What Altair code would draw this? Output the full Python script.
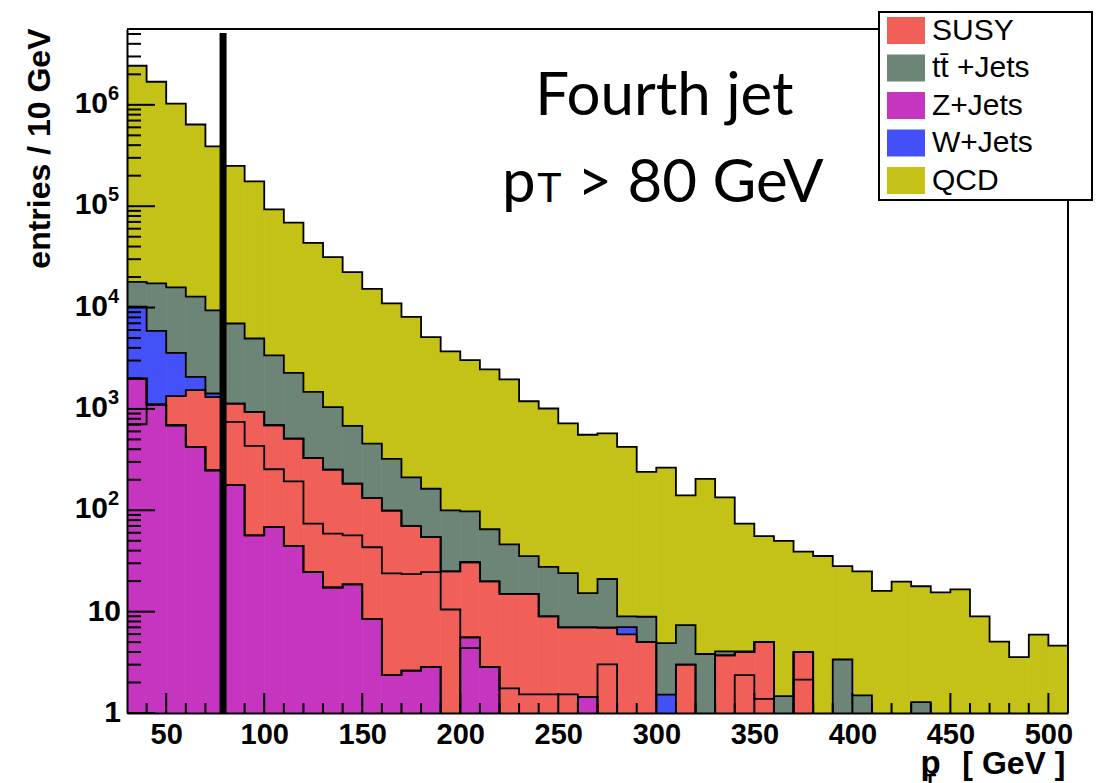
import altair as alt
import pandas as pd

# ---------------- data ----------------
bin_low = list(range(30, 510, 10))          # 48 bins of 10 GeV, 30..510
N = None                                      # no contribution in this bin

# cumulative stack levels (bottom -> top). None = same as the level below
zjets_a = [706, 1100, 690, 422, 248, 177, 56.6, 68.4, 44.5, 24.6,
           17.3, 18.6, 8.5, 2.36, 2.62, 2.85, 0, 4.37, 2.85, 0,
           0, 0, 0, 1.44, 0, 0, 0, 0, 0, 0,
           0, 0, 0, 0, 0, 0, 0, 0, 0, 0,
           0, 0, 0, 0, 0, 0, 0, 0]
zjets_b = [1990, N, N, N, N, N, N, N, N, N,
           N, N, N, N, N, N, N, 5.57, N, N,
           N, N, N, N, N, N, N, N, N, N,
           N, N, N, N, N, N, N, N, N, N,
           N, N, N, N, N, N, N, N]
susy_a = [N, N, N, N, N, 745, 431, 254, 193, 74,
          58.9, 56.6, 43.2, 23.8, 23.5, 24.5, 10.5, N, N, 1.75,
          1.53, 1.53, 1.53, N, 3.02, N, N, N, N, N,
          N, 2.36, 1.38, N, 2.13, N, N, N, N, N,
          N, N, N, N, N, N, N, N]
susy_b = [N, N, 1340, 1530, 1310, 1130, 934, 690, 510, 328,
          252, 183, 132, 99.3, 69.7, 54.3, 25.0, 30.7, 19.9, 15.0,
          15.0, 9.0, 7.0, 7.0, 6.95, 5.97, 5.01, N, 3.0, N,
          3.7, 4.0, 5.01, N, 3.99, N, N, N, N, N,
          N, N, N, N, N, N, N, N]
wjets = [1.02e4, 5.9e3, 3.57e3, 2.07e3, 1.42e3, N, N, N, N, N,
         N, N, N, N, N, N, N, N, N, N,
         N, N, N, N, N, 7.05, N, 1.52, N, N,
         N, N, N, N, N, N, N, N, N, N,
         N, N, N, N, N, N, N, N]
ttbar = [1.79e4, 1.73e4, 1.58e4, 1.28e4, 9.4e3, 6.96e3, 4.95e3, 3.38e3, 2.27e3, 1.47e3,
         1.04e3, 679, 455, 321, 211, 163, 100, 97.7, 65, 46,
         35.3, 27.7, 24, 15.2, 21.0, 9.0, 8.9, 4.9, 7.35, 3.82,
         4.06, 4.06, N, 1.47, N, N, 3.37, 1.49, N, N,
         1.28, N, N, N, N, N, N, N]
qcd = [2.43e6, 1.69e6, 1.03e6, 6.4e5, 3.9e5, 2.5e5, 1.76e5, 9.3e4, 6.9e4, 4.35e4,
       3.15e4, 2.24e4, 1.53e4, 1.1e4, 8.1e3, 5.1e3, 3.7e3, 3.03e3, 2.45e3, 1.96e3,
       1.19e3, 1.01e3, 721, 556, 575, 422, 239, 264, 140, 204,
       134, 74, 55.7, 49.8, 39.1, 35.4, 28.1, 25.0, 16.0, 19.8,
       17.8, 15.5, 16.6, 9.0, 5.06, 3.56, 5.93, 4.62]

processes = ["SUSY", "tt\u0304 +Jets", "Z+Jets", "W+Jets", "QCD"]
colors = ["#F06058", "#6D8576", "#C535C0", "#4450F8", "#C4C117"]

layers = [("Z+Jets", zjets_a), ("Z+Jets", zjets_b), ("SUSY", susy_a), ("SUSY", susy_b),
          ("W+Jets", wjets), ("tt\u0304 +Jets", ttbar), ("QCD", qcd)]

y_plain_ticks = [1, 10]
y_plain_text = ["1", "10"]
y_pow_ticks = [100, 1000, 10000, 100000, 1000000]
y_pow_exp = ["2", "3", "4", "5", "6"]
x_ticks = [50, 100, 150, 200, 250, 300, 350, 400, 450, 500]
x_cut = 79
y_max = 5.6e6

# ---------------- build tables ----------------
band_rows, line_rows = [], []
prev = [0.0] * len(bin_low)
for k, (name, arr) in enumerate(layers):
    lvl = [prev[i] if arr[i] is None else arr[i] for i in range(len(bin_low))]
    for i, lo in enumerate(bin_low):
        if lvl[i] > prev[i] and lvl[i] >= 1:
            band_rows.append(dict(process=name, x=lo, x2=lo + 10, top=lvl[i],
                                  bottom=prev[i] if prev[i] >= 1 else 1))
        line_rows.append(dict(level=k, x=lo, y=lvl[i] if lvl[i] > 0 else 0.3))
    line_rows.append(dict(level=k, x=510, y=lvl[-1] if lvl[-1] > 0 else 0.3))
    prev = lvl
bands = pd.DataFrame(band_rows)
lines = pd.DataFrame(line_rows)

y_major = y_plain_ticks + y_pow_ticks
minor_y = [m * 10 ** e for e in range(0, 7) for m in range(2, 10) if m * 10 ** e < y_max]
minor_x = [v for v in range(40, 510, 10) if v % 50 != 0]

W, H = 941, 684
FONT = "Liberation Sans"
xscale = alt.Scale(domain=[30, 510], nice=False, zero=False)
yscale = alt.Scale(type="log", domain=[1, y_max], nice=False)
xaxis = alt.Axis(values=x_ticks, title=None, grid=False, ticks=False, domainColor="black",
                 domainWidth=2, labelFont=FONT, labelFontWeight="bold", labelFontSize=29,
                 labelColor="black", labelPadding=7, zindex=1, labelFlush=False)
yaxis = alt.Axis(values=y_major, title="entries / 10 GeV", grid=False, ticks=False,
                 labels=False, domainColor="black", domainWidth=2, zindex=1,
                 titleFont=FONT, titleFontWeight="bold", titleFontSize=32, titleColor="black",
                 titleX=-71, titleY=-1, titleAlign="right", titleBaseline="bottom")


def X(f):
    return alt.X(f, type="quantitative", scale=xscale, axis=xaxis, title=None)


def Y(f):
    return alt.Y(f, type="quantitative", scale=yscale, axis=yaxis)


cscale = alt.Scale(domain=processes, range=colors)
legend = alt.Legend(orient="none", legendX=760, legendY=-17.5, title=None,
                    symbolType="M-1,-0.71L1,-0.71L1,0.71L-1,0.71Z", symbolSize=1444,
                    symbolStrokeWidth=0, labelFont=FONT, labelFontSize=30, labelColor="black",
                    labelOffset=7, rowPadding=3.5, padding=0, symbolOpacity=1)

band_chart = alt.Chart(bands).mark_rect(clip=True, strokeWidth=0.7, opacity=1).encode(
    x=X("x"), x2="x2", y=Y("top"), y2="bottom",
    color=alt.Color("process:N", scale=cscale, legend=legend),
    stroke=alt.Stroke("process:N", scale=cscale, legend=None),
)

outline = alt.Chart(lines).mark_line(interpolate="step-after", color="black",
                                     strokeWidth=1.8, clip=True).encode(
    x=X("x"), y=Y("y"), detail="level:N")

cut = alt.Chart(pd.DataFrame({"x": [x_cut], "y1": [1], "y2": [5.1e6]})).mark_rule(
    color="black", strokeWidth=7).encode(x=X("x"), y=Y("y1"), y2="y2")

ytick_major = alt.Chart(pd.DataFrame({"v": y_major})).mark_rule(color="black", strokeWidth=2).encode(
    y=Y("v"), x=alt.value(0), x2=alt.value(28))
ytick_minor = alt.Chart(pd.DataFrame({"v": minor_y})).mark_rule(color="black", strokeWidth=2).encode(
    y=Y("v"), x=alt.value(0), x2=alt.value(14))
xtick_major = alt.Chart(pd.DataFrame({"v": x_ticks})).mark_rule(color="black", strokeWidth=2).encode(
    x=X("v"), y=alt.value(H), y2=alt.value(H - 20))
xtick_minor = alt.Chart(pd.DataFrame({"v": minor_x})).mark_rule(color="black", strokeWidth=2).encode(
    x=X("v"), y=alt.value(H), y2=alt.value(H - 10))

# y tick labels: "1", "10" and 10^n with a raised exponent
ylab_plain = alt.Chart(pd.DataFrame({"v": y_plain_ticks, "t": y_plain_text})).mark_text(
    font=FONT, fontWeight="bold", fontSize=30, align="right", baseline="middle",
    color="black").encode(y=Y("v"), x=alt.value(-6), text="t:N")
ylab_base = alt.Chart(pd.DataFrame({"v": y_pow_ticks, "t": ["10"] * len(y_pow_ticks)})).mark_text(
    font=FONT, fontWeight="bold", fontSize=30, align="right", baseline="middle", dy=-1,
    color="black").encode(y=Y("v"), x=alt.value(-19), text="t:N")
ylab_exp = alt.Chart(pd.DataFrame({"v": y_pow_ticks, "t": y_pow_exp})).mark_text(
    font=FONT, fontWeight="bold", fontSize=20, align="left", baseline="middle", dy=-11,
    color="black").encode(y=Y("v"), x=alt.value(-19), text="t:N")

one = pd.DataFrame({"a": [0]})
frame_top = alt.Chart(one).mark_rule(color="black", strokeWidth=2).encode(
    x=alt.value(0), x2=alt.value(W), y=alt.value(0))
frame_right = alt.Chart(one).mark_rule(color="black", strokeWidth=2).encode(
    x=alt.value(W), y=alt.value(0), y2=alt.value(H))
legend_box = alt.Chart(one).mark_rect(fill="white", stroke="black", strokeWidth=2).encode(
    x=alt.value(752), x2=alt.value(965), y=alt.value(-17), y2=alt.value(171))


def label(text, x, y, size, font="Lato", weight="normal", align="left"):
    return alt.Chart(pd.DataFrame({"x": [x], "y": [y], "t": [text]})).mark_text(
        font=font, fontSize=size, fontWeight=weight, align=align, baseline="alphabetic",
        color="black").encode(x=X("x"), y=Y("y"), text="t:N")


texts = [
    label("Fourth jet", 304.1, 7.93e5, 60, align="center"),
    label("p", 221.3, 1.105e5, 60),
    label("T", 239.3, 1.105e5, 41),
    label("> 80 GeV", 259.7, 1.105e5, 60),
    label("p", 434.7, 0.250, 33, font=FONT, weight="bold"),
    label("T", 436.6, 0.184, 20, font=FONT, weight="bold"),
    label("[ GeV ]", 456.1, 0.250, 32, font=FONT, weight="bold"),
]

chart = alt.layer(band_chart, outline, ytick_minor, ytick_major, xtick_minor, xtick_major,
                  cut, frame_top, frame_right, legend_box, ylab_plain, ylab_base, ylab_exp,
                  *texts).properties(
    width=W, height=H,
    autosize=alt.AutoSizeParams(type="none"),
    padding={"left": 127, "top": 29, "right": 34, "bottom": 70},
    background="white",
).configure_view(stroke=None)

chart.save("out.html", embed_options={"renderer": "svg", "actions": False})
